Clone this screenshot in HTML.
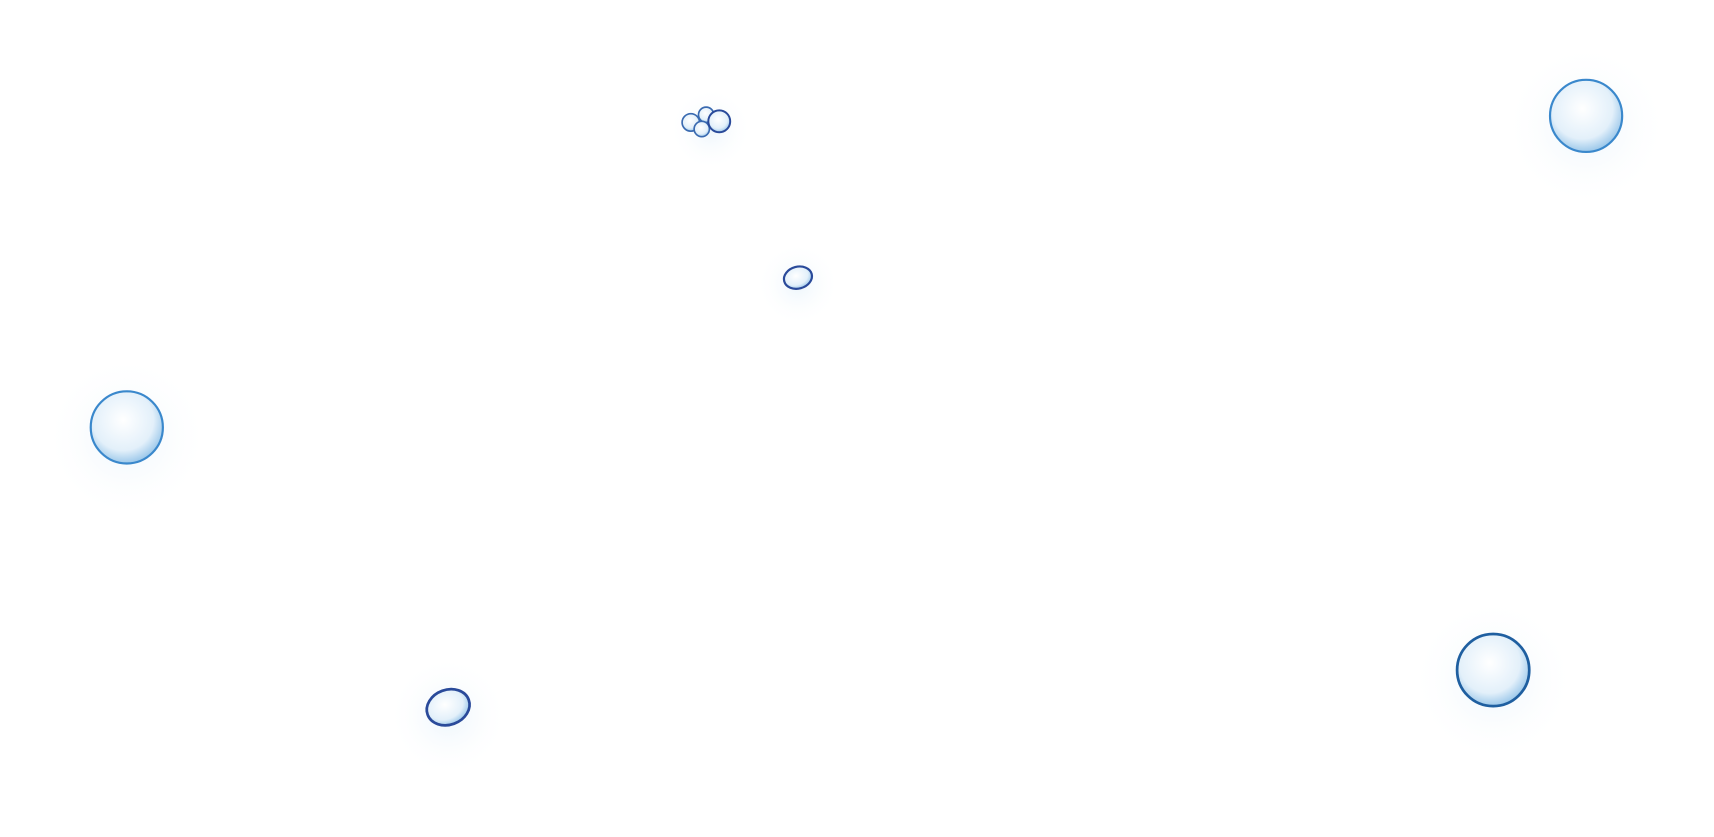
<!DOCTYPE html>
<html><head><meta charset="utf-8"><style>
html,body{margin:0;padding:0;background:#fff;width:1714px;height:837px;overflow:hidden}
</style></head><body>
<svg width="1714" height="837" viewBox="0 0 1714 837" xmlns="http://www.w3.org/2000/svg">
<defs>
<radialGradient id="glow"><stop offset="0" stop-color="#eaf4fb" stop-opacity="0.9"/><stop offset="1" stop-color="#ffffff" stop-opacity="0"/></radialGradient>
<radialGradient id="bub" cx="0.45" cy="0.4" r="0.6"><stop offset="0" stop-color="#ffffff"/><stop offset="0.7" stop-color="#e3f0fa"/><stop offset="1" stop-color="#9cc8ea"/></radialGradient>
</defs>
<rect width="1714" height="837" fill="#fff"/>
<g transform="scale(1.0931)">
<circle cx="1451" cy="115" r="75" fill="url(#glow)"/>
<circle cx="116" cy="400" r="75" fill="url(#glow)"/>
<circle cx="1366" cy="622" r="75" fill="url(#glow)"/>
<circle cx="410" cy="655" r="55" fill="url(#glow)"/>
<circle cx="730" cy="260" r="38" fill="url(#glow)"/>
<circle cx="650" cy="118" r="38" fill="url(#glow)"/>
<circle cx="1451" cy="106" r="33" fill="url(#bub)" stroke="#3a88cc" stroke-width="2"/>
<circle cx="116" cy="391" r="33" fill="url(#bub)" stroke="#3a88cc" stroke-width="2"/>
<circle cx="1366" cy="613" r="33" fill="url(#bub)" stroke="#1f5fa0" stroke-width="2.5"/>
<ellipse cx="410" cy="647" rx="20" ry="16" fill="url(#bub)" stroke="#2a4a9a" stroke-width="2.5" transform="rotate(-20 410 647)"/>
<ellipse cx="730" cy="254" rx="13" ry="10" fill="url(#bub)" stroke="#2a4a9a" stroke-width="2" transform="rotate(-15 730 254)"/>
<circle cx="632" cy="112" r="8" fill="url(#bub)" stroke="#3a6ab0" stroke-width="1.5"/>
<circle cx="646" cy="105" r="7" fill="url(#bub)" stroke="#3a6ab0" stroke-width="1.5"/>
<circle cx="642" cy="118" r="7" fill="url(#bub)" stroke="#3a6ab0" stroke-width="1.5"/>
<circle cx="658" cy="111" r="10" fill="url(#bub)" stroke="#2a4a9a" stroke-width="1.8"/>
</g>
</svg>
</body></html>
